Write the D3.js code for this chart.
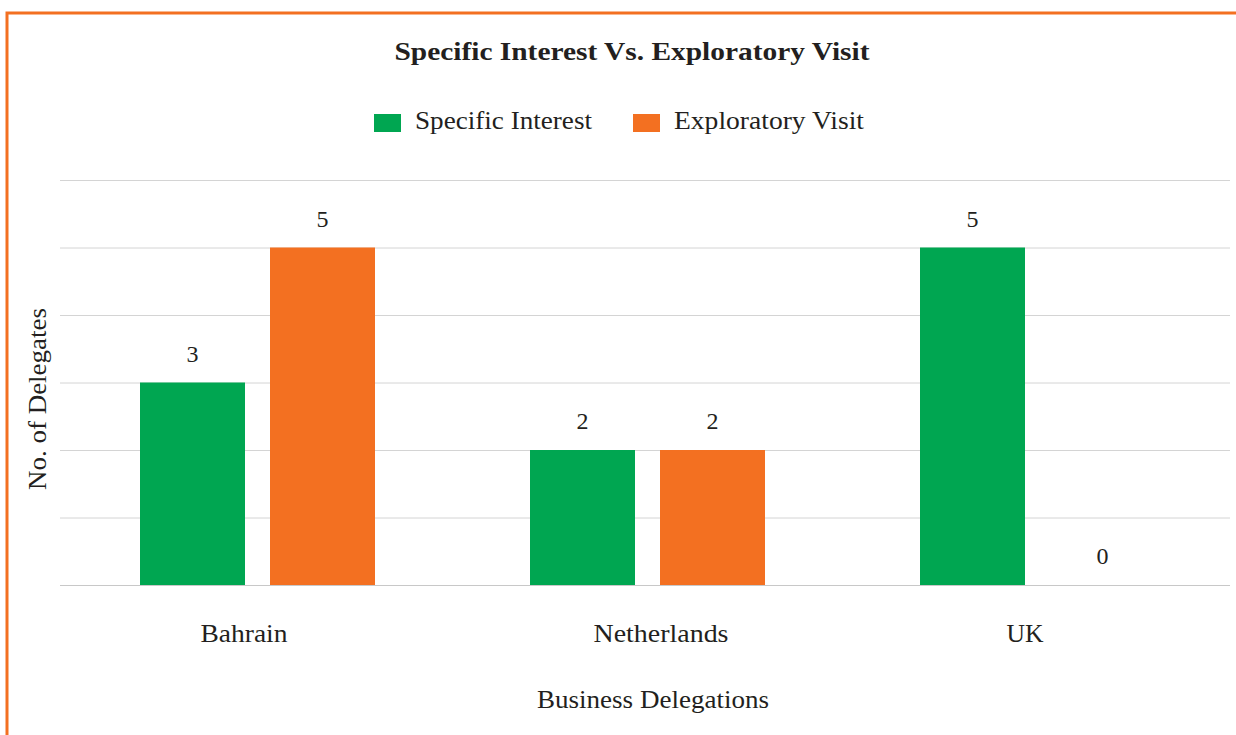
<!DOCTYPE html>
<html><head><meta charset="utf-8">
<script src="https://cdn.jsdelivr.net/npm/d3@7"></script>
<style>body{margin:0;background:#fff}svg{display:block}text{font-family:"Liberation Serif","DejaVu Serif",serif;fill:#231f20}</style>
</head><body>
<svg id="c" width="1236" height="735"></svg>
<script>
const categories = ["Bahrain","Netherlands","UK"];
const seriesNames = ["Specific Interest","Exploratory Visit"];
const specificInterest = [3,2,5];
const exploratoryVisit = [5,2,0];
const yTicks = [0,1,2,3,4,5,6];
const colors = ["#00a651","#f37021"];

const svg = d3.select("#c");
// border
svg.append("path").attr("d","M7,735 V13 H1236").attr("fill","none").attr("stroke","#f37021").attr("stroke-width",3);

const x0 = d3.scaleBand().domain(categories).range([60,1230]);
const x1 = d3.scaleOrdinal().domain(seriesNames).range([-115,15]);
const y = d3.scaleLinear().domain([0,6]).range([585,180]);
const bw = 105;

// gridlines
svg.append("g").selectAll("line").data(yTicks).join("line")
  .attr("x1",60).attr("x2",1230).attr("y1",d=>y(d)+0.5).attr("y2",d=>y(d)+0.5)
  .attr("stroke",d=>d===0?"#c8c8c8":"#d4d4d4").attr("stroke-width",1);

const data = [];
categories.forEach((c,i)=>{
  data.push({c,s:seriesNames[0],v:specificInterest[i],col:colors[0]});
  data.push({c,s:seriesNames[1],v:exploratoryVisit[i],col:colors[1]});
});
const cx = d=>x0(d.c)+x0.bandwidth()/2 + x1(d.s);
svg.append("g").selectAll("rect").data(data).join("rect")
  .attr("x",cx).attr("width",bw).attr("y",d=>y(d.v)).attr("height",d=>y(0)-y(d.v)).attr("fill",d=>d.col);
svg.append("g").selectAll("text").data(data).join("text")
  .attr("x",d=>cx(d)+bw/2).attr("y",d=>y(d.v)-21).attr("text-anchor","middle").attr("font-size",24).text(d=>d.v);

// category labels
const labelShift = {"Bahrain":-11,"Netherlands":16,"UK":-10};
const labelLen = {"Bahrain":87,"Netherlands":135,"UK":37};
svg.append("g").selectAll("text").data(categories).join("text")
  .attr("x",d=>x0(d)+x0.bandwidth()/2+labelShift[d]).attr("y",642).attr("text-anchor","middle").attr("font-size",25)
  .attr("textLength",d=>labelLen[d]).attr("lengthAdjust","spacingAndGlyphs").text(d=>d);

// titles
svg.append("text").attr("x",632).attr("y",60).attr("text-anchor","middle").attr("font-size",26).attr("font-weight","bold")
  .attr("textLength",475).attr("lengthAdjust","spacingAndGlyphs").text("Specific Interest Vs. Exploratory Visit");
svg.append("text").attr("x",653).attr("y",708).attr("text-anchor","middle").attr("font-size",25)
  .attr("textLength",232).attr("lengthAdjust","spacingAndGlyphs").text("Business Delegations");
svg.append("text").attr("transform","translate(46,399) rotate(-90)").attr("text-anchor","middle").attr("font-size",25)
  .attr("textLength",182).attr("lengthAdjust","spacingAndGlyphs").text("No. of Delegates");

// legend
const lx = [374,633];
const lw = [177,190];
const lg = svg.append("g").selectAll("g").data(seriesNames).join("g").attr("transform",(d,i)=>`translate(${lx[i]},114)`);
lg.append("rect").attr("width",27).attr("height",18).attr("fill",(d,i)=>colors[i]);
lg.append("text").attr("x",41).attr("y",15).attr("font-size",25)
  .attr("textLength",(d,i)=>lw[i]).attr("lengthAdjust","spacingAndGlyphs").text(d=>d);
</script>
</body></html>
